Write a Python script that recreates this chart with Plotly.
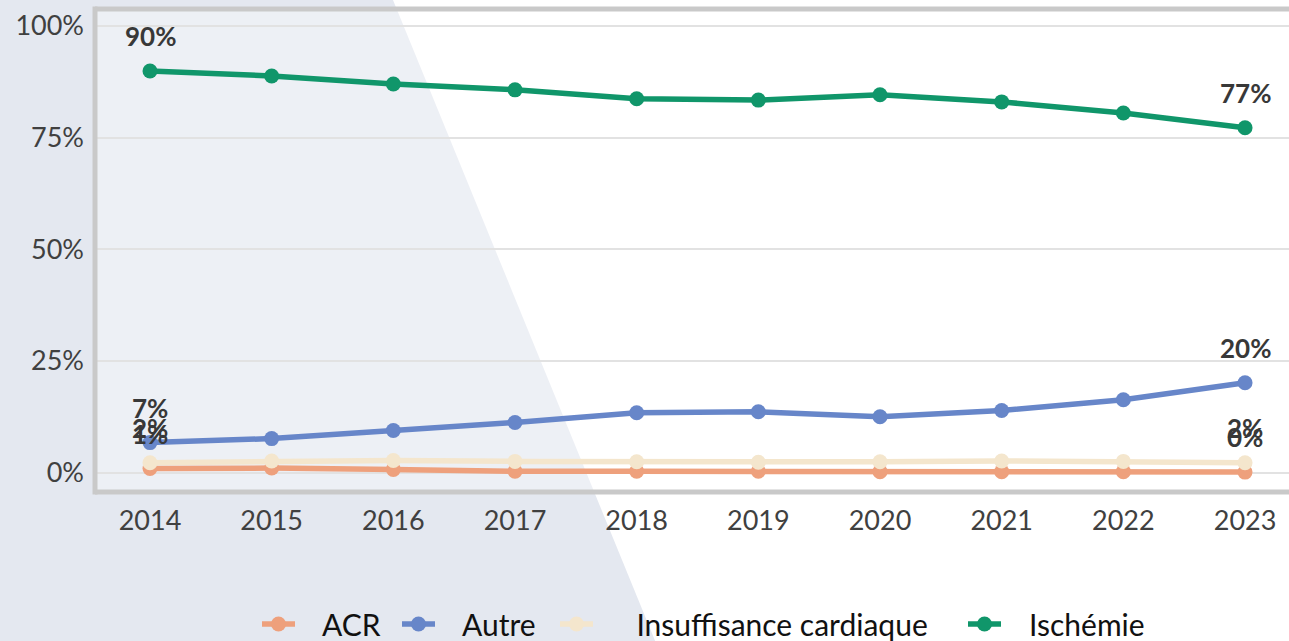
import plotly.graph_objects as go

# Share of cases by category, 2014-2023 (%)
years = [2014, 2015, 2016, 2017, 2018, 2019, 2020, 2021, 2022, 2023]
acr = [0.9, 1.0, 0.7, 0.3, 0.3, 0.3, 0.2, 0.2, 0.2, 0.1]
autre = [6.7, 7.6, 9.4, 11.2, 13.4, 13.6, 12.5, 13.9, 16.3, 20.1]
insuffisance = [2.2, 2.6, 2.7, 2.5, 2.4, 2.3, 2.4, 2.6, 2.5, 2.2]
ischemie = [89.9, 88.8, 87.0, 85.7, 83.7, 83.4, 84.6, 83.0, 80.5, 77.2]

series_names = ["ACR", "Autre", "Insuffisance cardiaque", "Ischémie"]
series_values = [acr, autre, insuffisance, ischemie]
series_colors = ["#eea07c", "#6786c9", "#f4e6cd", "#10966a"]

y_ticks = [0, 25, 50, 75, 100]
y_tick_labels = ["0%", "25%", "50%", "75%", "100%"]

W, H = 1289, 641
# plot area in pixels
L, R, T, B = 95, 1289, 8.5, 492.5

# one legend box per series: (left edge in px, non-breaking spaces before the label)
legend_slots = [(257, 3), (397, 3), (555, 5), (963, 3)]
legend_ids = ["legend", "legend2", "legend3", "legend4"]
NBSP = "\u00a0"

fig = go.Figure()
for name, vals, col, lid, (lx, pad) in zip(series_names, series_values, series_colors,
                                           legend_ids, legend_slots):
    fig.add_trace(go.Scatter(
        x=years, y=vals, name=NBSP * pad + name, mode="lines+markers",
        line=dict(color=col, width=5.5),
        marker=dict(color=col, size=15),
        hoverinfo="skip", legend=lid,
    ))
    # value labels on first and last year
    for i in (0, len(years) - 1):
        fig.add_annotation(
            x=years[i], y=vals[i], text=f"{round(vals[i])}%",
            showarrow=False, yshift=35,
            font=dict(family="Lato", size=26, color="#383838", weight="bold"),
        )

def px_x(p):
    return (p - L) / (R - L)

def px_y(p):
    return (B - p) / (B - T)

# light grey diagonal backdrop on the left part of the figure
poly = [(-20, -20), (385, -20), (663, 661), (-20, 661)]
path = "M " + " L ".join(f"{px_x(a):.4f},{px_y(b):.4f}" for a, b in poly) + " Z"
fig.add_shape(type="path", path=path, xref="paper", yref="paper",
              fillcolor="#e4e8f0", line=dict(width=0), layer="below")
# translucent plot-area panel
fig.add_shape(type="rect", xref="paper", yref="paper", x0=0, x1=1.02, y0=0, y1=1,
              fillcolor="rgba(255,255,255,0.35)", line=dict(width=0), layer="below")
# frame on left, top and bottom
frame = dict(color="#c9c9c9", width=5)
fig.add_shape(type="line", xref="paper", yref="paper", x0=0, x1=0, y0=-0.005, y1=1.005, line=frame)
fig.add_shape(type="line", xref="paper", yref="paper", x0=0, x1=1.02, y0=1, y1=1, line=frame)
fig.add_shape(type="line", xref="paper", yref="paper", x0=0, x1=1.02, y0=0, y1=0, line=frame)

px_per_year = 121.67
px_per_pct = (473 - 25.5) / 100
x0 = 2014 - (150 - L) / px_per_year
x1 = 2014 + (R - 150) / px_per_year
y0 = -(B - 473) / px_per_pct
y1 = 100 + (25.5 - T) / px_per_pct

legends = {}
for lid, (lx, pad) in zip(legend_ids, legend_slots):
    legends[lid] = dict(
        orientation="h", xref="container", yref="container",
        x=lx / W, xanchor="left", y=(H - 624) / H, yanchor="middle",
        font=dict(family="Lato", size=30, color="#111111"),
        bgcolor="rgba(0,0,0,0)", itemwidth=33,
    )

fig.update_layout(
    width=W, height=H,
    margin=dict(l=L, r=W - R, t=T, b=H - B, pad=0),
    paper_bgcolor="white",
    plot_bgcolor="rgba(0,0,0,0)",
    font=dict(family="Lato", color="#404040"),
    showlegend=True,
    xaxis=dict(
        range=[x0, x1], tickmode="array", tickvals=years,
        ticktext=[str(y) for y in years], showgrid=False, zeroline=False,
        showline=False, ticks="", ticklabelstandoff=10, automargin=False,
        tickfont=dict(family="Lato", size=27, color="#404040"),
    ),
    yaxis=dict(
        range=[y0, y1], tickmode="array", tickvals=y_ticks, ticktext=y_tick_labels,
        showgrid=True, gridcolor="#e2e2e2", gridwidth=2, zeroline=False,
        showline=False, ticks="", ticklabelstandoff=10, automargin=False,
        tickfont=dict(family="Lato", size=27, color="#404040"),
    ),
    **legends,
)

fig.write_html("out.html")
